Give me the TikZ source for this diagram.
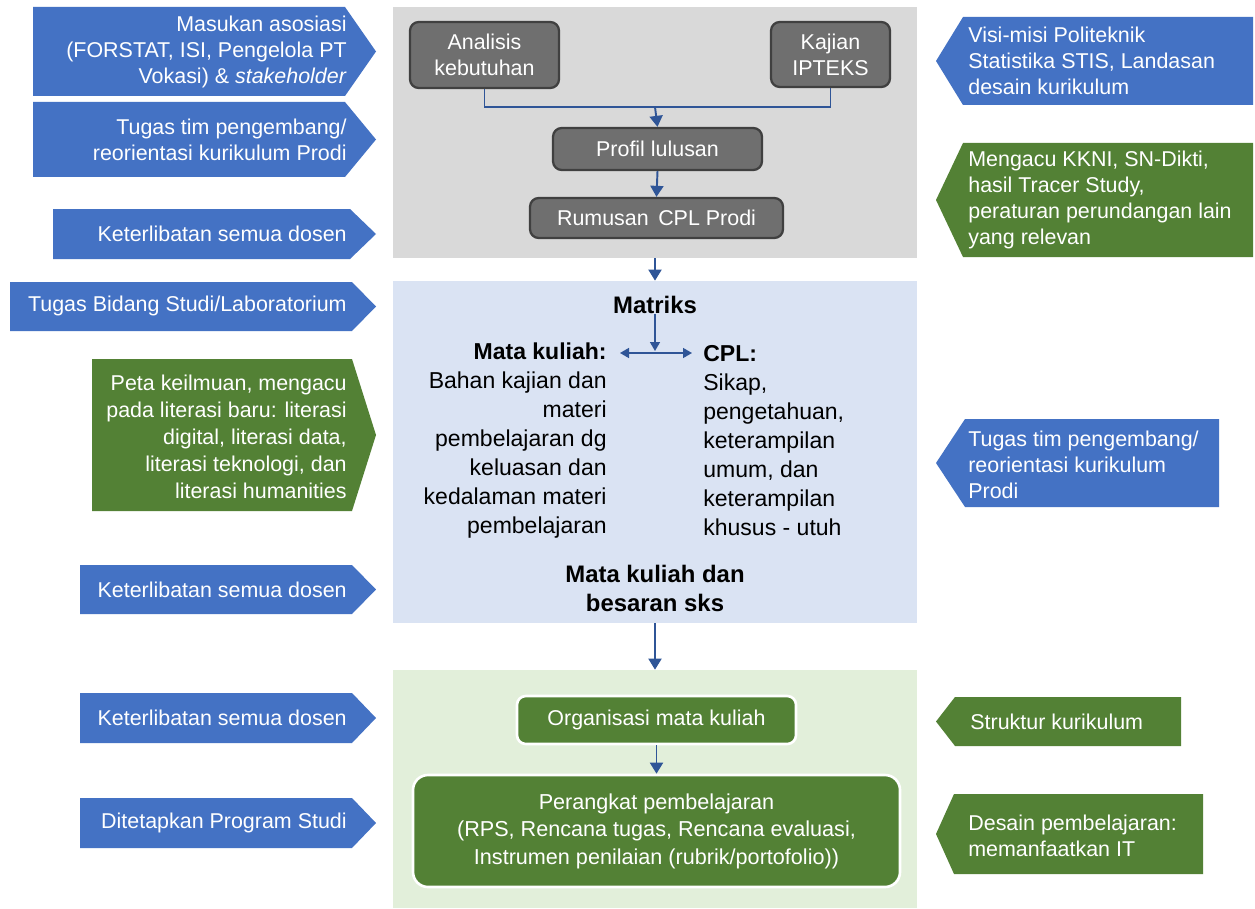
\documentclass[tikz,border=0pt]{standalone}
\usepackage{fontspec}
\setmainfont{Liberation Sans}
\usetikzlibrary{arrows.meta}
\definecolor{pblue}{HTML}{4472C4}
\definecolor{pgreen}{HTML}{538135}
\definecolor{lgrey}{HTML}{D9D9D9}
\definecolor{lblue}{HTML}{DAE3F3}
\definecolor{lgreen}{HTML}{E2EFDA}
\definecolor{dgrey}{HTML}{6F6F6F}
\definecolor{dgreyb}{HTML}{404040}
\definecolor{arr}{HTML}{2F5597}
\newcommand\PentR[6]{\fill[#6] (#1,#2) -- (#3,#2) -- (#5,{(#2+#4)/2}) -- (#3,#4) -- (#1,#4) -- cycle;}
\newcommand\PentL[6]{\fill[#6] (#1,#2) -- (#3,#2) -- (#3,#4) -- (#1,#4) -- (#5,{(#2+#4)/2}) -- cycle;}
\begin{document}
\begin{tikzpicture}[x=0.02cm,y=-0.02cm,
  font=\fontsize{12.2}{14.7}\selectfont,
  wtxt/.style={text=white, inner sep=0pt},
  ltxt/.style={wtxt, anchor=east, align=right},
  rtxt/.style={wtxt, anchor=west, align=left},
  zone/.style={inner sep=0pt, draw=none},
  gbox/.style={draw=dgreyb, line width=1.3pt, fill=dgrey, rounded corners=5pt, text=white, align=center, inner sep=0pt},
  grbox/.style={draw=white, line width=1.5pt, fill=pgreen, text=white, align=center, inner sep=0pt},
  conn/.style={draw=arr, line width=1.1pt},
  arrow/.style={conn, -{Triangle[width=0.26cm,length=0.22cm]}},
  sarrow/.style={draw=arr, line width=0.9pt, -{Triangle[width=0.2cm,length=0.18cm]}},
  darrow/.style={draw=arr, line width=0.9pt, {Triangle[width=0.2cm,length=0.18cm]}-{Triangle[width=0.2cm,length=0.18cm]}},
  btxt/.style={inner sep=0pt, text=black}
]
\useasboundingbox (0,0) rectangle (1255,909);
\fill[white] (0,0) rectangle (1255,909);

% zones
\node[zone, fill=lgrey, minimum width=524*0.02cm, minimum height=251*0.02cm] (zA) at (655,132.5) {};
\node[zone, fill=lblue, minimum width=524*0.02cm, minimum height=342*0.02cm] (zB) at (655,452) {};
\node[zone, fill=lgreen, minimum width=524*0.02cm, minimum height=238*0.02cm] (zC) at (655,789) {};

% left pentagons
\PentR{33}{7}{345}{96}{376}{pblue}
\PentR{33}{102}{345}{177}{376}{pblue}
\PentR{53}{209}{350}{259}{376}{pblue}
\PentR{10}{282}{352}{331}{376}{pblue}
\PentR{92}{359}{352}{511}{376}{pgreen}
\PentR{80}{565}{352}{614}{376}{pblue}
\PentR{80}{693}{352}{743}{376}{pblue}
\PentR{80}{798}{352}{848}{376}{pblue}

\node[ltxt] (l1) at (347,52) {Masukan asosiasi\\(FORSTAT, ISI, Pengelola PT\\Vokasi) \& \textit{stakeholder}};
\node[ltxt] (l2) at (347,140) {Tugas tim pengembang/\\reorientasi kurikulum Prodi};
\node[ltxt] (l3) at (347,234) {Keterlibatan semua dosen};
\node[ltxt] (l4) at (347,306) {Tugas Bidang Studi/Laboratorium};
\node[ltxt, font=\fontsize{12.2}{15.3}\selectfont] (l5) at (347,437) {Peta keilmuan, mengacu\\pada literasi baru: literasi\\digital, literasi data,\\literasi teknologi, dan\\literasi humanities};
\node[ltxt] (l6) at (347,590) {Keterlibatan semua dosen};
\node[ltxt] (l7) at (347,718) {Keterlibatan semua dosen};
\node[ltxt] (l8) at (347,823) {Ditetapkan Program Studi};

% right pentagons
\PentL{963}{17}{1253}{105}{936}{pblue}
\PentL{963}{143}{1253}{257}{936}{pgreen}
\PentL{965}{419}{1219}{507}{936}{pblue}
\PentL{955}{697}{1181}{746}{936}{pgreen}
\PentL{954}{794}{1203}{874}{936}{pgreen}

\node[rtxt] (r1) at (968,61) {Visi-misi Politeknik\\Statistika STIS, Landasan\\desain kurikulum};
\node[rtxt, font=\fontsize{12.2}{14.9}\selectfont] (r2) at (968,200) {Mengacu KKNI, SN-Dikti,\\hasil Tracer Study,\\peraturan perundangan lain\\yang relevan};
\node[rtxt] (r3) at (968,465) {Tugas tim pengembang/\\reorientasi kurikulum\\Prodi};
\node[rtxt] (r4) at (970,722) {Struktur kurikulum};
\node[rtxt] (r5) at (968,836) {Desain pembelajaran:\\memanfaatkan IT};

% grey zone boxes
\node[gbox, minimum width=149*0.02cm, minimum height=66*0.02cm] (ana) at (484.5,55) {Analisis\\kebutuhan};
\node[gbox, minimum width=119*0.02cm, minimum height=65*0.02cm] (kaj) at (830.5,54.5) {Kajian\\IPTEKS};
\node[gbox, minimum width=209*0.02cm, minimum height=42*0.02cm] (prof) at (657.5,149) {Profil lulusan};
\node[gbox, minimum width=253*0.02cm, minimum height=40*0.02cm] (rum) at (656.5,218) {Rumusan\, CPL Prodi};
\coordinate (jn) at (655,107);
\draw[conn] (ana.south) |- (jn) -| (kaj.south);
\draw[arrow] (jn) -- (prof.north);
\draw[arrow] (prof.south) -- (rum.north);
\draw[arrow] (zA.south) -- (zB.north);

% blue zone
\node[btxt, font=\fontsize{13.6}{16}\bfseries] (mat) at (655,305) {Matriks};
\node[btxt, anchor=east, align=right, font=\fontsize{13.1}{16.5}\selectfont] (mk) at (607,441) {\textbf{Mata kuliah:}\\Bahan kajian dan\\materi\\pembelajaran dg\\keluasan dan\\kedalaman materi\\pembelajaran};
\node[btxt, anchor=west, align=left, font=\fontsize{13.1}{16.5}\selectfont] (cpl) at (703,441) {\textbf{CPL:}\\Sikap,\\pengetahuan,\\keterampilan\\umum, dan\\keterampilan\\khusus - utuh};
\coordinate (hl) at (620,353);
\coordinate (hr) at (692,353);
\coordinate (hm) at (655,351);
\draw[sarrow] (mat.south) -- (hm);
\draw[darrow] (hl) -- (hr);
\node[btxt, align=center, font=\fontsize{13.6}{16.5}\bfseries] (mks) at (655,588) {Mata kuliah dan\\besaran sks};
\draw[arrow] (zB.south) -- (zC.north);

% green zone
\node[grbox, rounded corners=5pt, minimum width=279*0.02cm, minimum height=48*0.02cm] (org) at (656.5,720) {Organisasi mata kuliah};
\node[grbox, rounded corners=0.3cm, minimum width=487*0.02cm, minimum height=112*0.02cm, font=\fontsize{12.3}{15.6}\selectfont] (per) at (656.5,831) {Perangkat pembelajaran\\(RPS, Rencana tugas, Rencana evaluasi,\\Instrumen penilaian (rubrik/portofolio))};
\draw[arrow] (org.south) -- (per.north);
\end{tikzpicture}
\end{document}
